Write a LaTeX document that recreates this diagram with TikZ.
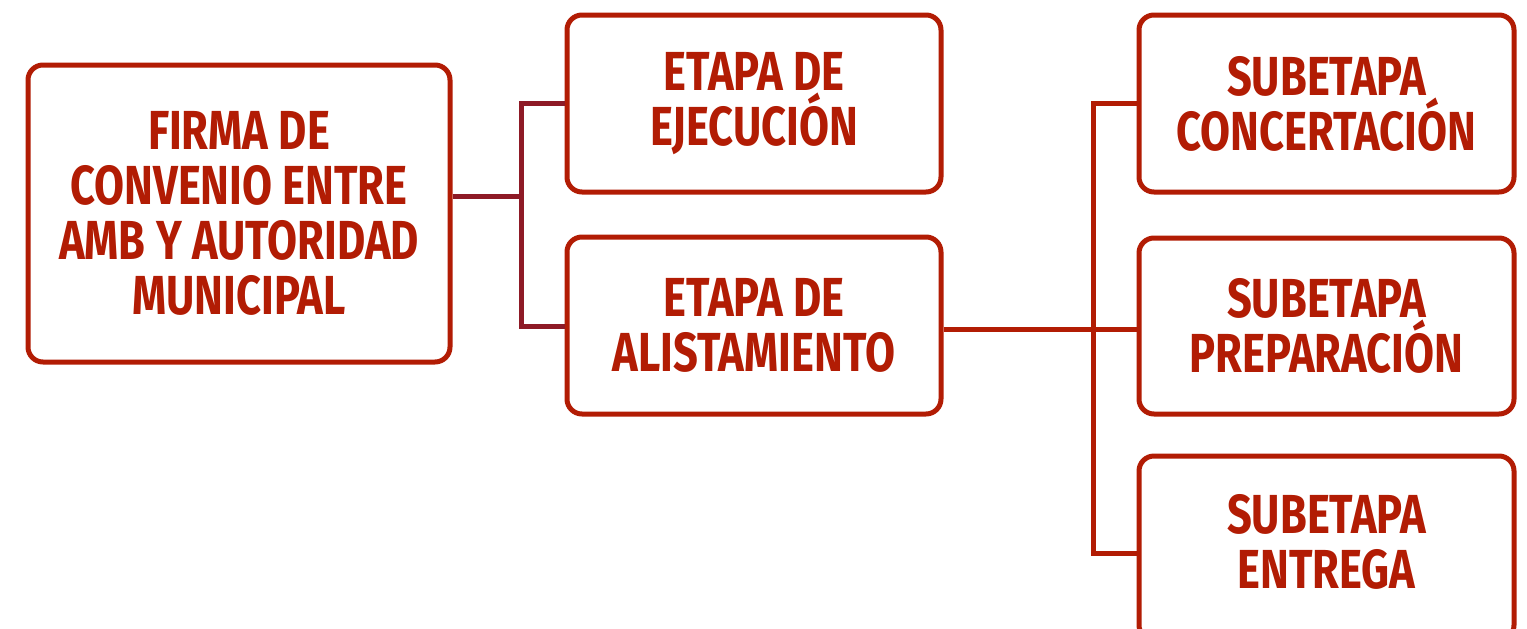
\documentclass[tikz,border=0pt]{standalone}
\usepackage{fontspec}
\setmainfont{Fira Sans}[FakeStretch=0.79,UprightFont=* Bold]
\definecolor{boxred}{RGB}{178,28,4}
\definecolor{linkred}{RGB}{142,26,38}
\begin{document}
\begin{tikzpicture}[x=0.5pt,y=-0.5pt,
  stagetext/.style={text=boxred,align=center,inner sep=0pt,
    font=\fontsize{27.5}{27.5}\selectfont},
  stagebox/.style={stagetext,draw=boxred,line width=2.5pt,rounded corners=7.5pt,fill=white},
  linkA/.style={draw=linkred,line width=2.5pt},
  linkB/.style={draw=boxred,line width=2.5pt}]
\useasboundingbox (0,0) rectangle (1527,628);
\node[stagebox,minimum width=211pt,minimum height=148.5pt] (a) at (239,213.5)
  {FIRMA DE\\CONVENIO ENTRE\\AMB Y AUTORIDAD\\MUNICIPAL};
\node[stagebox,minimum width=187pt,minimum height=88.5pt] (b) at (754,103.5)
  {ETAPA DE\\EJECUCIÓN};
\node[stagebox,minimum width=187pt,minimum height=88.5pt] (c) at (754,325.5)
  {ETAPA DE\\ALISTAMIENTO};
\node[stagebox,minimum width=187.5pt,minimum height=88.5pt] (d) at (1326.5,103.5)
  {SUBETAPA\\CONCERTACIÓN};
\node[stagebox,minimum width=187.5pt,minimum height=88pt] (e) at (1326.5,326)
  {SUBETAPA\\PREPARACIÓN};
\node[stagebox,minimum width=187.5pt,minimum height=92pt] (f) at (1326.5,548) {};
\node[stagetext] (ft) at (1326.5,542) {SUBETAPA\\ENTREGA};
\coordinate (ja) at (521,196);
\coordinate (jb) at (1093,329);
\draw[linkA] (a.east |- ja) -- (ja);
\draw[linkA] (b.west |- 0,103) -| (ja) |- (c.west |- 0,326);
\draw[linkB] (c.east |- jb) -- (jb);
\draw[linkB] (d.west |- 0,103) -| (jb) |- (f.west |- 0,553);
\draw[linkB] (jb) -- (e.west |- jb);
\end{tikzpicture}
\end{document}
